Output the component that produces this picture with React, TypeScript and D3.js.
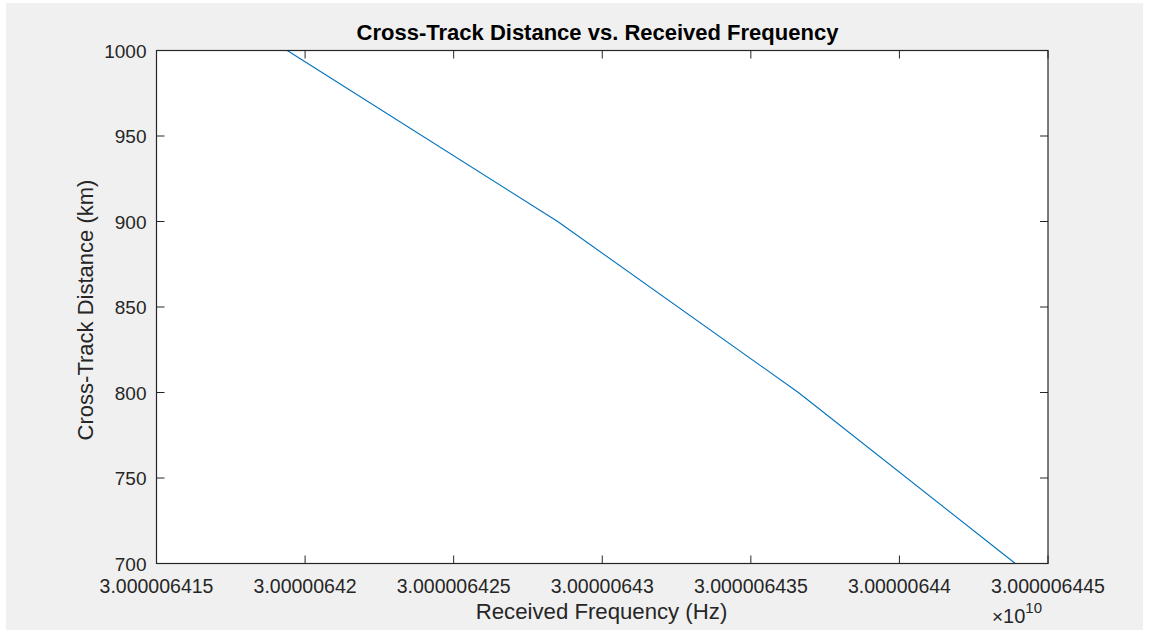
import React from "react";
import * as d3 from "d3";

// Data: cross-track distance (km) vs. received frequency (Hz)
const frequencyHz = [30000064194, 30000064285, 30000064366, 30000064439];
const distanceKm = [1000, 900, 800, 700];

const xTickValues = [30000064150, 30000064200, 30000064250, 30000064300, 30000064350, 30000064400, 30000064450];
const xTickLabels = ["3.000006415", "3.00000642", "3.000006425", "3.00000643", "3.000006435", "3.00000644", "3.000006445"];
const yTickValues = [700, 750, 800, 850, 900, 950, 1000];

const W = 1151;
const H = 630;
const plot = { left: 156.5, right: 1048, top: 50.5, bottom: 563.5 };
const FONT = "'Liberation Sans', Arial, Helvetica, sans-serif";
const AX = "#262626";

export default function App() {
  const x = d3.scaleLinear().domain([xTickValues[0], xTickValues[xTickValues.length - 1]]).range([plot.left, plot.right]);
  const y = d3.scaleLinear().domain([700, 1000]).range([plot.bottom, plot.top]);
  const line = d3
    .line<number>()
    .x((_, i) => x(frequencyHz[i]))
    .y((d) => y(d));
  const tickLen = 8;

  return (
    <svg width={W} height={H} style={{ position: "absolute", left: 0, top: 0, display: "block" }}>
      <rect x={0} y={0} width={W} height={H} fill="#ffffff" />
      <rect x={6} y={3} width={1137} height={627} fill="#f0f0f0" />
      <rect x={plot.left} y={plot.top} width={plot.right - plot.left} height={plot.bottom - plot.top} fill="#ffffff" />

      <path d={line(distanceKm) || ""} fill="none" stroke="#0072BD" strokeWidth={1.1} />

      {/* ticks */}
      {xTickValues.map((v, i) => (
        <g key={"xt" + i}>
          <line x1={x(v)} x2={x(v)} y1={plot.bottom} y2={plot.bottom - tickLen} stroke={AX} strokeWidth={1} />
          <line x1={x(v)} x2={x(v)} y1={plot.top} y2={plot.top + tickLen} stroke={AX} strokeWidth={1} />
          <text x={x(v)} y={592.5} textAnchor="middle" fontFamily={FONT} fontSize={19.5} fill={AX}>
            {xTickLabels[i]}
          </text>
        </g>
      ))}
      {yTickValues.map((v, i) => (
        <g key={"yt" + i}>
          <line x1={plot.left} x2={plot.left + tickLen} y1={y(v)} y2={y(v)} stroke={AX} strokeWidth={1} />
          <line x1={plot.right} x2={plot.right - tickLen} y1={y(v)} y2={y(v)} stroke={AX} strokeWidth={1} />
          <text x={146.5} y={y(v) + 7} textAnchor="end" fontFamily={FONT} fontSize={19} fill={AX}>
            {v}
          </text>
        </g>
      ))}

      <rect x={plot.left} y={plot.top} width={plot.right - plot.left} height={plot.bottom - plot.top} fill="none" stroke={AX} strokeWidth={1.2} />

      {/* title */}
      <text x={597.5} y={40} textAnchor="middle" fontFamily={FONT} fontSize={22} fontWeight="bold" fill="#000000">
        Cross-Track Distance vs. Received Frequency
      </text>
      {/* x label */}
      <text x={601.5} y={619} textAnchor="middle" fontFamily={FONT} fontSize={22.2} fill={AX}>
        Received Frequency (Hz)
      </text>
      {/* y label */}
      <text transform={`translate(93,310) rotate(-90)`} textAnchor="middle" fontFamily={FONT} fontSize={22} fill={AX}>
        Cross-Track Distance (km)
      </text>
      {/* exponent */}
      <text x={992} y={623} fontFamily={FONT} fontSize={20} fill={AX}>
        <tspan fontSize={19}>×</tspan>
        <tspan>10</tspan>
        <tspan fontSize={15} dy={-10}>10</tspan>
      </text>
    </svg>
  );
}
